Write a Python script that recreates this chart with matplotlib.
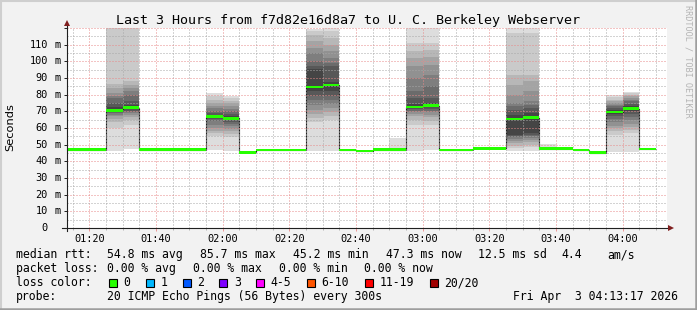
import matplotlib
matplotlib.use("Agg")
import matplotlib.pyplot as plt
from matplotlib.patches import Rectangle
from matplotlib.lines import Line2D
from matplotlib.ticker import FixedLocator, MultipleLocator


def to_min(hhmm):
    h, m = hhmm.split(":")
    return int(h) * 60 + int(m)


# 5 minute steps, start time of each step
bin_start = ["01:10", "01:15", "01:20", "01:25", "01:30", "01:35", "01:40", "01:45",
             "01:50", "01:55", "02:00", "02:05", "02:10", "02:15", "02:20", "02:25",
             "02:30", "02:35", "02:40", "02:45", "02:50", "02:55", "03:00", "03:05",
             "03:10", "03:15", "03:20", "03:25", "03:30", "03:35", "03:40", "03:45",
             "03:50", "03:55", "04:00", "04:05"]
median_ms = [47.0, 47.0, 47.0, 70.4, 72.2, 47.0, 47.0, 47.0,
             47.0, 66.8, 65.7, 45.4, 46.9, 46.9, 46.9, 84.7,
             85.7, 46.9, 46.2, 47.0, 47.0, 72.5, 73.5, 46.8,
             46.8, 47.8, 47.8, 65.5, 66.2, 47.6, 47.6, 46.8,
             45.2, 69.7, 71.6, 47.3]

# 20 sorted pings per step (only steps with visible smoke)
pings_0125 = [46.5, 60.0, 63.5, 65.5, 67.0, 68.0, 68.8, 69.4, 69.9, 70.4,
              70.8, 72.8, 75.0, 77.8, 79.5, 80.8, 83.8, 86.2, 125.0, 130.0]
pings_0130 = [47.5, 62.0, 64.8, 66.5, 67.8, 68.8, 69.4, 70.5, 71.4, 72.2,
              72.8, 73.8, 76.0, 79.8, 82.0, 84.0, 86.0, 88.0, 125.0, 130.0]
pings_0155 = [46.8, 55.5, 57.0, 58.5, 60.0, 62.0, 64.0, 65.5, 66.2, 66.8,
              67.3, 68.0, 69.0, 70.5, 72.0, 73.5, 75.0, 77.0, 79.5, 80.8]
pings_0200 = [46.2, 54.8, 56.5, 58.0, 59.5, 61.0, 62.5, 63.8, 64.8, 65.5,
              66.0, 67.0, 68.5, 70.0, 71.5, 73.0, 75.0, 76.5, 78.0, 79.5]
pings_0225 = [46.5, 63.8, 66.0, 68.5, 71.0, 74.0, 77.0, 79.0, 82.0, 84.5,
              85.5, 95.5, 97.0, 100.0, 104.8, 108.0, 112.0, 116.0, 118.5, 119.5]
pings_0230 = [46.5, 64.8, 67.0, 69.5, 72.0, 74.5, 77.0, 79.5, 82.0, 85.0,
              86.3, 87.8, 97.5, 99.0, 102.0, 106.0, 110.0, 114.0, 118.0, 119.8]
pings_0250 = [46.6, 46.7, 46.8, 46.8, 46.9, 46.9, 47.0, 47.0, 47.0, 47.0,
              47.1, 47.1, 47.2, 47.2, 47.3, 47.4, 47.5, 47.6, 47.8, 54.0]
pings_0255 = [46.5, 61.8, 65.0, 67.5, 68.5, 69.5, 70.5, 71.5, 72.2, 72.8,
              73.5, 74.5, 78.0, 82.0, 90.0, 97.0, 102.0, 106.0, 111.0, 125.0]
pings_0300 = [47.0, 61.8, 64.0, 66.8, 68.0, 69.5, 70.5, 71.5, 72.5, 73.2,
              73.8, 75.0, 77.8, 85.0, 92.0, 98.0, 102.8, 107.0, 110.8, 121.0]
pings_0325 = [46.5, 48.0, 49.5, 51.0, 52.5, 53.5, 54.5, 55.3, 55.8, 65.2,
              65.8, 68.0, 70.8, 73.0, 74.8, 80.0, 86.0, 91.8, 117.0, 121.0]
pings_0330 = [46.5, 48.5, 50.0, 51.5, 53.0, 54.0, 55.0, 56.0, 57.0, 65.8,
              66.6, 69.0, 72.0, 74.0, 76.0, 82.0, 88.0, 92.0, 117.0, 121.0]
pings_0335 = [47.2, 47.3, 47.3, 47.4, 47.4, 47.5, 47.5, 47.6, 47.6, 47.6,
              47.7, 47.7, 47.8, 47.8, 47.9, 48.0, 48.1, 48.3, 48.6, 50.4]
pings_0355 = [45.8, 55.8, 58.0, 59.8, 61.5, 63.8, 65.5, 67.0, 68.5, 69.5,
              70.2, 71.0, 72.0, 73.0, 74.0, 75.0, 76.0, 76.8, 78.5, 80.0]
pings_0400 = [45.8, 57.0, 59.0, 60.8, 62.5, 64.8, 66.5, 68.5, 70.0, 71.4,
              72.0, 73.0, 74.5, 76.0, 77.0, 78.0, 79.0, 80.0, 81.0, 81.8]

smoke = {"01:25": pings_0125, "01:30": pings_0130, "01:55": pings_0155,
         "02:00": pings_0200, "02:25": pings_0225, "02:30": pings_0230,
         "02:50": pings_0250, "02:55": pings_0255, "03:00": pings_0300,
         "03:25": pings_0325, "03:30": pings_0330, "03:35": pings_0335,
         "03:55": pings_0355, "04:00": pings_0400}

x_tick_labels = ["01:20", "01:40", "02:00", "02:20", "02:40", "03:00", "03:20", "03:40", "04:00"]
y_tick_values = [0, 10, 20, 30, 40, 50, 60, 70, 80, 90, 100, 110]

loss_labels = ["0", "1", "2", "3", "4-5", "6-10", "11-19", "20/20"]
loss_colors = ["#26ff00", "#00b8ff", "#0059ff", "#7e00ff", "#ff00ff", "#ff5500", "#ff0000", "#a10000"]

title = "Last 3 Hours from f7d82e16d8a7 to U. C. Berkeley Webserver"
rtt_stats = ["54.8 ms avg", "85.7 ms max", "45.2 ms min", "47.3 ms now", "12.5 ms sd", "4.4", "am/s"]
loss_stats = ["0.00 % avg", "0.00 % max", "0.00 % min", "0.00 % now"]
probe_text = "20 ICMP Echo Pings (56 Bytes) every 300s"
stamp = "Fri Apr  3 04:13:17 2026"

t_start = to_min("01:13") + 17 / 60
t_end = to_min("04:13") + 17 / 60
step = 5
y_max = 120

W, H = 697, 310
MONO = "DejaVu Sans Mono"
fig = plt.figure(figsize=(W / 100, H / 100), dpi=100, facecolor="#f2f2f2")
ax = fig.add_axes([67 / W, (H - 228) / H, 600 / W, 200 / H])
ax.set_facecolor("white")
ax.set_xlim(t_start, t_end)
ax.set_ylim(0, y_max)

# smoke, smokeping style grey bands
for label, p in smoke.items():
    x0 = to_min(label)
    p = sorted(p)
    half = len(p) // 2
    for k in range(len(p) - 1):
        ibot = min(k + 1, len(p) - 1 - k)
        g = int(190 / half * (half - ibot)) + 50
        ax.bar(x0, p[k + 1] - p[k], bottom=p[k], width=step, align="edge",
               color="#%02x%02x%02x" % (g, g, g), linewidth=0, zorder=1,
               antialiased=False)

# median: dark step line + green band (loss 0)
starts = [to_min(s) for s in bin_start]
edges = starts + [starts[-1] + step]
ax.stairs(median_ms, edges, baseline=None, color="#202020", lw=0.8, zorder=2)
sw = 0.75
ax.bar(starts, 2 * sw, bottom=[m - sw for m in median_ms], width=step, align="edge",
       color=loss_colors[0], linewidth=0, zorder=4)

# grid
ax.xaxis.set_major_locator(FixedLocator([to_min(s) for s in x_tick_labels]))
ax.xaxis.set_minor_locator(MultipleLocator(5))
ax.yaxis.set_major_locator(MultipleLocator(10))
ax.yaxis.set_minor_locator(MultipleLocator(5))
ax.set_axisbelow(False)
ax.grid(which="major", color="#e88a8a", lw=0.72, linestyle=(0, (1, 2)))
ax.grid(which="minor", color="#a8a8a8", lw=0.72, linestyle=(0, (1, 2)))

for s in ax.spines.values():
    s.set_visible(False)
ax.set_xticks([to_min(s) for s in x_tick_labels], labels=x_tick_labels)
for t in ax.get_xticklabels():
    t.set_fontfamily(MONO)
ax.tick_params(axis="x", which="major", length=2, width=0.7, color="#eb9595", pad=2.0, labelsize=7.4)
ax.tick_params(axis="x", which="minor", length=1.5, width=0.7, color="#b4b4b4")
ax.tick_params(axis="y", which="major", length=2, width=0.7, color="#1f1f1f", labelleft=False)
ax.tick_params(axis="y", which="minor", length=0)

# y labels: digits and unit
for v in y_tick_values:
    ax.text((47.8 - 67) / 600, v, str(v), transform=ax.get_yaxis_transform(),
            ha="right", va="center", fontsize=7.4, family=MONO)
    if v > 0:
        ax.text((60.3 - 67) / 600, v, "m", transform=ax.get_yaxis_transform(),
                ha="right", va="center", fontsize=7.4, family=MONO)

# axes with arrows
ax.plot([-0.008, 1.005], [0, 0], transform=ax.transAxes, color="#1f1f1f", lw=0.8,
        clip_on=False, zorder=5)
ax.plot([0, 0], [-0.015, 1.02], transform=ax.transAxes, color="#1f1f1f", lw=0.8,
        clip_on=False, zorder=5)
ax.plot([1.006], [0], marker=">", ms=4, color="#801f1f", transform=ax.transAxes,
        clip_on=False, zorder=6, mew=0)
ax.plot([0], [1.024], marker="^", ms=4, color="#801f1f", transform=ax.transAxes,
        clip_on=False, zorder=6, mew=0)

# texts
def px(x, y):
    return x / W, 1 - y / H

fig.text(*px(348.5, 24), title, ha="center", va="baseline", fontsize=9.6, family=MONO)
fig.text(*px(10, 127), "Seconds", rotation=90, ha="center", va="center", fontsize=8.2,
         family="DejaVu Sans")
fig.text(*px(688, 61), "RRDTOOL / TOBI OETIKER", rotation=270, ha="center", va="center",
         fontsize=6.1, family=MONO, color="#b4b4b4")

LF = 8.3
fig.text(*px(16, 258), "median rtt:", fontsize=LF, family=MONO, va="baseline")
for s, x in zip(rtt_stats, [107, 200, 293, 386, 478, 561, 607]):
    fig.text(*px(x, 258), s, fontsize=LF, family=MONO, va="baseline")
fig.text(*px(16, 272), "packet loss:", fontsize=LF, family=MONO, va="baseline")
for s, x in zip(loss_stats, [107, 193, 279, 364]):
    fig.text(*px(x, 272), s, fontsize=LF, family=MONO, va="baseline")
fig.text(*px(16, 286), "loss color:", fontsize=LF, family=MONO, va="baseline")
bx = 109
for lab, col in zip(loss_labels, loss_colors):
    fig.add_artist(Rectangle(px(bx, 287), 8 / W, 8 / H, transform=fig.transFigure,
                             facecolor=col, edgecolor="black", lw=0.8))
    lx = bx + 14.5
    fig.text(*px(lx, 286), lab, fontsize=LF, family=MONO, va="baseline")
    bx = lx + len(lab) * 7 + 15.3
fig.text(*px(16, 300), "probe:", fontsize=LF, family=MONO, va="baseline")
fig.text(*px(107, 300), probe_text, fontsize=LF, family=MONO, va="baseline")
fig.text(*px(513, 300), stamp, fontsize=LF, family=MONO, va="baseline")

# frame shading
fig.add_artist(Line2D([0, 1], [1 - 1 / H, 1 - 1 / H], transform=fig.transFigure, color="#cfcfcf", lw=1.5))
fig.add_artist(Line2D([1 / W, 1 / W], [0, 1], transform=fig.transFigure, color="#cfcfcf", lw=1.5))
fig.add_artist(Line2D([0, 1], [1.2 / H, 1.2 / H], transform=fig.transFigure, color="#9e9e9e", lw=1.8))
fig.add_artist(Line2D([1 - 1.2 / W, 1 - 1.2 / W], [0, 1], transform=fig.transFigure, color="#9e9e9e", lw=1.8))

fig.savefig("out.png", dpi=100, facecolor=fig.get_facecolor())
